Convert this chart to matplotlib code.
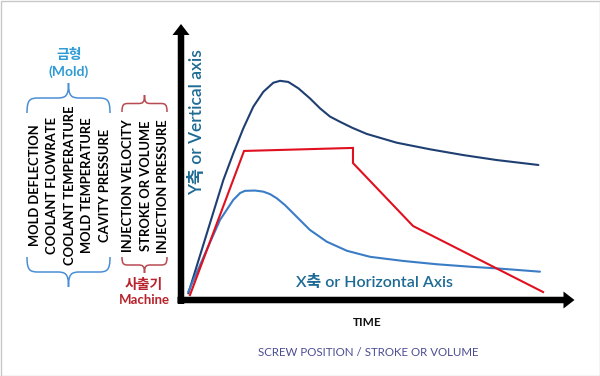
import matplotlib
matplotlib.use("Agg")
import matplotlib.pyplot as plt
from matplotlib.path import Path
from matplotlib.patches import PathPatch, FancyArrow, Rectangle

# ---- data (x = time 0..100, y = value 0..100) ----
navy_x = [1.85, 10.74, 13.27, 15.81, 18.35, 20.89, 23.43, 25.13, 27.23, 29.77,
          32.74, 35.28, 37.82, 40.36, 43.5, 47.13, 54.75, 63.2, 71.65, 80.1, 90.7]
navy_y = [2.4, 43.6, 53.3, 62.4, 70.3, 75.7, 79.0, 79.7, 79.3, 77.0,
          73.3, 69.7, 66.7, 64.8, 62.6, 60.4, 57.2, 54.8, 52.7, 50.9, 49.1]

blue_x = [1.85, 6.52, 9.9, 13.27, 15.0, 16.24, 18.8, 20.9, 22.6, 24.3, 26.4, 28.5,
          32.7, 37.0, 42.1, 48.0, 56.4, 64.9, 73.4, 80.1, 91.1]
blue_y = [3.0, 18.2, 29.1, 36.4, 38.9, 39.7, 39.8, 39.4, 38.5, 37.0, 34.5, 31.5,
          25.5, 21.2, 17.9, 15.7, 14.2, 13.0, 12.1, 11.5, 10.3]

red_x = [2.28, 16.0, 43.65, 43.65, 58.9, 91.9]
red_y = [1.8, 54.2, 55.3, 49.8, 26.9, 2.9]

mold_labels = ["MOLD DEFLECTION", "COOLANT FLOWRATE", "COOLANT TEMPERATURE",
               "MOLD TEMPERATURE", "CAVITY PRESSURE"]
machine_labels = ["INJECTION VELOCITY", "STROKE OR VOLUME", "INJECTION PRESSURE"]

NAVY = "#1f3f72"
LBLUE = "#3a7cc6"
RED = "#e01020"
TEAL = "#1d6a94"
MOLD_C = "#2f9bd4"
MACH_C = "#b8222c"

LAT = ["Lato", "Noto Sans CJK KR", "DejaVu Sans"]
KR = ["Noto Sans CJK KR", "DejaVu Sans"]

fig = plt.figure(figsize=(6.0, 3.76), dpi=100)
fig.patch.set_facecolor("white")

# background axes in pixel units for decorations/text
bg = fig.add_axes([0, 0, 1, 1])
bg.set_xlim(0, 600)
bg.set_ylim(376, 0)
bg.axis("off")

# frame
bg.add_patch(Rectangle((0.5, 0.5), 599, 375, fill=False, edgecolor="#c8c8c8", lw=1.0))

# axis arrows
bg.add_patch(FancyArrow(181, 304, 0, -280, width=6.5, head_width=17, head_length=11,
                        length_includes_head=True, color="black", lw=0))
bg.add_patch(FancyArrow(177.5, 300, 397, 0, width=6.5, head_width=17, head_length=11,
                        length_includes_head=True, color="black", lw=0))

# main data axes
ax = fig.add_axes([181 / 600, (376 - 300) / 376, 394 / 600, 275 / 376])
ax.set_xlim(0, 100)
ax.set_ylim(0, 100)
ax.axis("off")
ax.patch.set_alpha(0)
ax.plot(navy_x, navy_y, color=NAVY, lw=1.5, solid_capstyle="round", solid_joinstyle="round")
ax.plot(blue_x, blue_y, color=LBLUE, lw=1.5, solid_capstyle="round", solid_joinstyle="round")
ax.plot(red_x, red_y, color=RED, lw=1.5, solid_joinstyle="miter")

# axis titles
bg.text(197, 122, "Y축 or Vertical axis", rotation=90, ha="center", va="center",
        fontsize=12.5, color=TEAL, family=LAT, fontweight="semibold")
bg.text(374, 283, "X축 or Horizontal Axis", ha="center", va="center",
        fontsize=11.5, color=TEAL, family=LAT, fontweight="semibold")
bg.text(367, 322, "TIME", ha="center", va="center", fontsize=8.5,
        fontweight="bold", color="#111111", family=LAT)
bg.text(368, 353, "SCREW POSITION / STROKE OR VOLUME", ha="center", va="center",
        fontsize=8.3, color="#4b4d93", family=LAT)


def brace(x0, x1, y_end, y_tip, color):
    xm = (x0 + x1) / 2
    ym = (y_end + y_tip) / 2
    a = (x1 - x0) * 0.14
    verts = [
        (x0, y_end), (x0, ym + (y_end - ym) * 0.1), (x0 + a * 0.25, ym), (x0 + a, ym),
        (xm - a, ym),
        (xm - a * 0.25, ym), (xm, ym - (ym - y_tip) * 0.1), (xm, y_tip),
        (xm, ym - (ym - y_tip) * 0.1), (xm + a * 0.25, ym), (xm + a, ym),
        (x1 - a, ym),
        (x1 - a * 0.25, ym), (x1, ym + (y_end - ym) * 0.1), (x1, y_end),
    ]
    codes = [Path.MOVETO, Path.CURVE4, Path.CURVE4, Path.CURVE4,
             Path.LINETO,
             Path.CURVE4, Path.CURVE4, Path.CURVE4,
             Path.CURVE4, Path.CURVE4, Path.CURVE4,
             Path.LINETO,
             Path.CURVE4, Path.CURVE4, Path.CURVE4]
    bg.add_patch(PathPatch(Path(verts, codes), fill=False, edgecolor=color, lw=1.1))


# mold group
brace(27, 110, 113, 83, "#4a8fd6")
brace(27, 110, 257, 287, "#4a8fd6")
bg.text(69, 55, "금형", ha="center", va="center", fontsize=10, color=MOLD_C,
        family=KR, fontweight="bold")
bg.text(69, 72, "(Mold)", ha="center", va="center", fontsize=10, color=MOLD_C,
        family=LAT, fontweight="bold")
mold_x = [35, 52, 70, 87, 105]
for xx, lab in zip(mold_x, mold_labels):
    bg.text(xx, 185, lab, rotation=90, ha="center", va="center", fontsize=9.4,
            color="black", family=LAT, fontweight="bold")

# machine group
brace(122, 167, 112, 95, "#b84a52")
brace(122, 167, 257, 273, "#b84a52")
mach_x = [128, 146, 163]
for xx, lab in zip(mach_x, machine_labels):
    bg.text(xx, 186, lab, rotation=90, ha="center", va="center", fontsize=9.4,
            color="black", family=LAT, fontweight="bold")
bg.text(144, 285, "사출기", ha="center", va="center", fontsize=10, color=MACH_C,
        family=KR, fontweight="bold")
bg.text(144, 300, "Machine", ha="center", va="center", fontsize=9.5, color=MACH_C,
        family=LAT, fontweight="bold")

fig.savefig("out.png", dpi=100, facecolor="white")
